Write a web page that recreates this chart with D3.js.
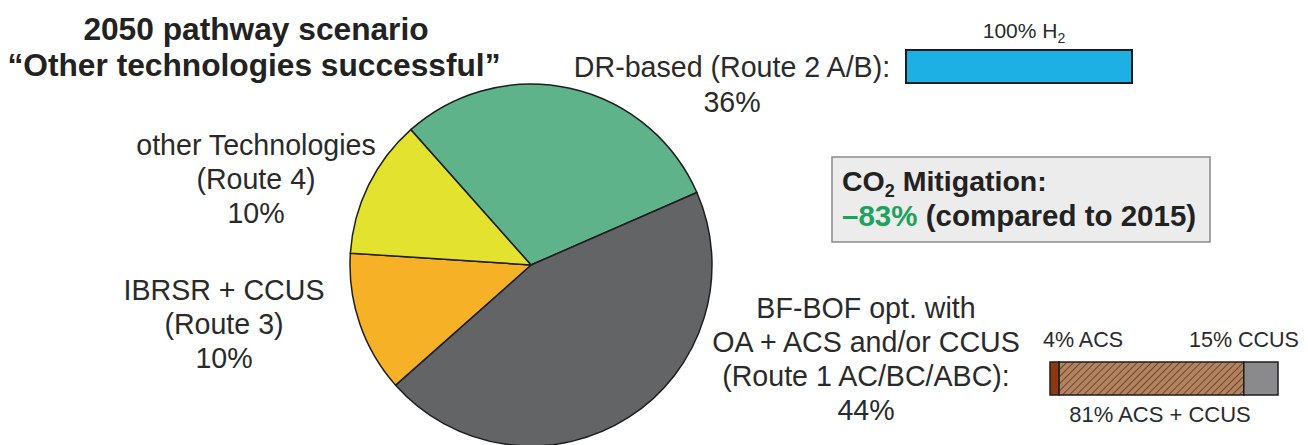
<!DOCTYPE html>
<html>
<head>
<meta charset="utf-8">
<script src="https://cdn.jsdelivr.net/npm/d3@7"></script>
<style>
  body { margin: 0; background: #fff; }
  svg { display: block; font-family: "Liberation Sans", Arial, sans-serif; }
</style>
</head>
<body>
<svg id="chart"></svg>
<script>
// pie slices, clockwise starting from the green one (shares as drawn in the picture)
const sliceNames = ["DR-based", "BF-BOF", "IBRSR + CCUS", "other Technologies"];
const sliceShares = [30, 45, 12.6, 12.4];
const sliceColors = ["#5fb38b", "#636466", "#f6b127", "#e3e22e"];

// hydrogen bar for DR route
const h2Shares = [100];
// BF-BOF split bar
const bofParts = ["ACS", "ACS + CCUS", "CCUS"];
const bofShares = [4, 81, 15];

const width = 1308;
const height = 445;

const svg = d3.select("#chart").attr("width", width).attr("height", height);

const defs = svg.append("defs");
const pat = defs.append("pattern")
  .attr("id", "hatch")
  .attr("patternUnits", "userSpaceOnUse")
  .attr("width", 5)
  .attr("height", 5)
  .attr("patternTransform", "rotate(45)");
pat.append("rect").attr("width", 5).attr("height", 5).attr("fill", "#b08463");
pat.append("line")
  .attr("x1", 0).attr("y1", 0).attr("x2", 0).attr("y2", 5)
  .attr("stroke", "#6e3c1e").attr("stroke-width", 1.8);

// title
const title = svg.append("text")
  .attr("text-anchor", "middle")
  .style("font-size", "31.7px")
  .style("font-weight", "bold")
  .style("fill", "#222");
title.append("tspan").attr("x", 256).attr("y", 40).text("2050 pathway scenario");
title.append("tspan").attr("x", 254).attr("y", 76).text("\u201COther technologies successful\u201D");

// pie
const cx = 531, cy = 265, radius = 181;
const pie = d3.pie()
  .sort(null)
  .startAngle(-41.6 * Math.PI / 180)
  .endAngle((360 - 41.6) * Math.PI / 180)
  .value((d) => d);
const arcGen = d3.arc().innerRadius(0).outerRadius(radius);

svg.append("g")
  .attr("transform", `translate(${cx}, ${cy})`)
  .selectAll("path")
  .data(pie(sliceShares))
  .enter()
  .append("path")
  .attr("d", arcGen)
  .style("fill", (d, i) => sliceColors[i])
  .style("stroke", "#1e1e1e")
  .style("stroke-width", 1.5);

// labels
function label(lines, x, y0, step, size) {
  const t = svg.append("text")
    .attr("text-anchor", "middle")
    .style("font-size", size + "px")
    .style("fill", "#2a2a2a");
  lines.forEach((l, i) => {
    t.append("tspan").attr("x", x).attr("y", y0 + i * step).text(l);
  });
  return t;
}

label(["DR-based (Route 2 A/B):", "36%"], 732, 77, 35, 28.6);
label(["other Technologies", "(Route 4)", "10%"], 256, 155, 34, 28.6);
label(["IBRSR + CCUS", "(Route 3)", "10%"], 224, 300, 34, 28.6);
label(["BF-BOF opt. with", "OA + ACS and/or CCUS", "(Route 1 AC/BC/ABC):", "44%"], 866, 318, 34, 28.6);

// H2 bar
const xH2 = d3.scaleLinear().domain([0, 100]).range([906, 1132]);
svg.selectAll(".h2bar")
  .data(h2Shares)
  .enter()
  .append("rect")
  .attr("class", "h2bar")
  .attr("x", xH2(0))
  .attr("y", 50)
  .attr("width", (d) => xH2(d) - xH2(0))
  .attr("height", 33)
  .style("fill", "#1cb0e4")
  .style("stroke", "#1a1a1a")
  .style("stroke-width", 2);

const h2t = svg.append("text")
  .attr("x", 1024)
  .attr("y", 38)
  .attr("text-anchor", "middle")
  .style("font-size", "21px")
  .style("fill", "#2a2a2a");
h2t.append("tspan").text(h2Shares[0] + "% H");
h2t.append("tspan").attr("dy", 5).style("font-size", "14px").text("2");

// CO2 box
svg.append("rect")
  .attr("x", 832).attr("y", 157)
  .attr("width", 378).attr("height", 85)
  .style("fill", "#ececec")
  .style("stroke", "#8a8a8a")
  .style("stroke-width", 1.5);

const co = svg.append("text")
  .attr("x", 842).attr("y", 191)
  .style("font-size", "28.5px")
  .style("font-weight", "bold")
  .style("fill", "#222");
co.append("tspan").text("CO");
co.append("tspan").attr("dy", 6).style("font-size", "18px").text("2");
co.append("tspan").attr("dy", -6).text(" Mitigation:");

const mt = svg.append("text")
  .attr("x", 842).attr("y", 226)
  .style("font-size", "29.5px")
  .style("font-weight", "bold")
  .style("fill", "#222");
mt.append("tspan").style("fill", "#1ea35f").text("\u201383%");
mt.append("tspan").text(" (compared to 2015)");

// BF-BOF split bar
const xBof = d3.scaleLinear().domain([0, 100]).range([1050, 1278]);
let acc = 0;
const stacked = bofShares.map((v) => {
  const s = { start: acc, end: acc + v };
  acc += v;
  return s;
});
const bofFills = ["#8b3a10", "url(#hatch)", "#8a8a8c"];
svg.selectAll(".bof")
  .data(stacked)
  .enter()
  .append("rect")
  .attr("class", "bof")
  .attr("x", (d) => xBof(d.start))
  .attr("y", 362)
  .attr("width", (d) => xBof(d.end) - xBof(d.start))
  .attr("height", 33)
  .style("fill", (d, i) => bofFills[i])
  .style("stroke", "#1e1e1e")
  .style("stroke-width", 1.5);

svg.append("text")
  .attr("x", 1043).attr("y", 347)
  .style("font-size", "21.5px").style("fill", "#2a2a2a")
  .text(bofShares[0] + "% " + bofParts[0]);
svg.append("text")
  .attr("x", 1189).attr("y", 347)
  .style("font-size", "21.5px").style("fill", "#2a2a2a")
  .text(bofShares[2] + "% " + bofParts[2]);
svg.append("text")
  .attr("x", 1160).attr("y", 422)
  .attr("text-anchor", "middle")
  .style("font-size", "22px").style("fill", "#2a2a2a")
  .text(bofShares[1] + "% " + bofParts[1]);
</script>
</body>
</html>
